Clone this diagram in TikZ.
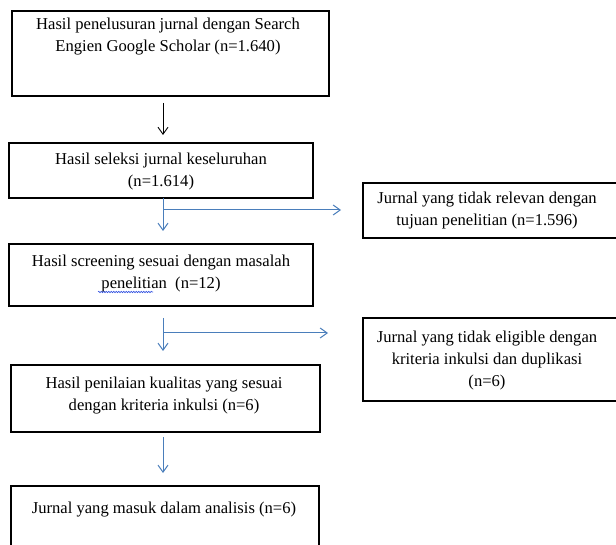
\documentclass[tikz,border=0pt]{standalone}
\usepackage{fontspec}
\setmainfont{Liberation Serif}
\usetikzlibrary{arrows.meta,calc,decorations.pathmorphing}
\definecolor{arrblue}{HTML}{4A7EBB}
\definecolor{wavyblue}{HTML}{3050E0}
\begin{document}
\begin{tikzpicture}[x=1pt,y=-1pt,
  box/.style={draw=black, line width=1.8pt, rectangle, inner sep=0pt},
  txt/.style={font=\fontsize{16.6}{22}\selectfont, align=center, inner sep=0pt},
  blk/.style={draw=black, line width=0.9pt, -{Straight Barb[length=7pt,width=10pt]}},
  blu/.style={draw=arrblue, line width=1pt, -{Straight Barb[length=7pt,width=10pt]}},
  bluline/.style={draw=arrblue, line width=1pt},
]
\useasboundingbox (0,0) rectangle (616,545);
\clip (0,0) rectangle (616,545);

% boxes
\node[box, minimum width=317pt, minimum height=85pt] (b1) at (170.5,53.5) {};
\node[box, minimum width=304pt, minimum height=55pt] (b2) at (161,170.5) {};
\node[box, minimum width=257pt, minimum height=55pt] (r1) at (491.5,210.5) {};
\node[box, minimum width=304pt, minimum height=62pt] (b3) at (161,275) {};
\node[box, minimum width=257pt, minimum height=83pt] (r2) at (491.5,359.5) {};
\node[box, minimum width=309pt, minimum height=67pt] (b4) at (165.5,398.5) {};
\node[box, minimum width=308pt, minimum height=74pt] (b5) at (165,523) {};

% texts
\node[txt] (t1) at (168,37) {Hasil penelusuran jurnal dengan Search\\Engien Google Scholar (n=1.640)};
\node[txt] (t2) at (161,172) {Hasil seleksi jurnal keseluruhan\\(n=1.614)};
\node[txt] (tr1) at (487,211) {Jurnal yang tidak relevan dengan\\tujuan penelitian (n=1.596)};
\node[txt] (t3) at (161,273.5) {Hasil screening sesuai dengan masalah\\penelitian\ \ (n=12)};
\node[txt] (tr2) at (487,361) {Jurnal yang tidak eligible dengan\\kriteria inkulsi dan duplikasi\\(n=6)};
\node[txt] (t4) at (164,396) {Hasil penilaian kualitas yang sesuai\\dengan kriteria inkulsi (n=6)};
\node[txt] (t5) at (164,510) {Jurnal yang masuk dalam analisis (n=6)};

% spell-check underline
\draw[wavyblue, line width=0.6pt, decorate, decoration={snake, amplitude=0.7pt, segment length=2.5pt}]
  (98,292) -- (153,292);

% connector anchor points
\coordinate (a1s) at (163,103);
\coordinate (a1e) at (163,135);
\coordinate (v1s) at (163,198);
\coordinate (v1e) at (163,231);
\coordinate (h1s) at (163,210);
\coordinate (h1e) at (341,210);
\coordinate (v2s) at (163,318);
\coordinate (v2e) at (163,351);
\coordinate (h2s) at (163,333);
\coordinate (h2e) at (328,333);
\coordinate (v3s) at (163,437);
\coordinate (v3e) at (163,473);

% connectors
\draw[blk] (a1s) -- (a1e);
\draw[blu] (v1s) -- (v1e);
\draw[blu] (h1s) -- (h1e);
\draw[blu] (v2s) -- (v2e);
\draw[blu] (h2s) -- (h2e);
\draw[blu] (v3s) -- (v3e);
\end{tikzpicture}
\end{document}
